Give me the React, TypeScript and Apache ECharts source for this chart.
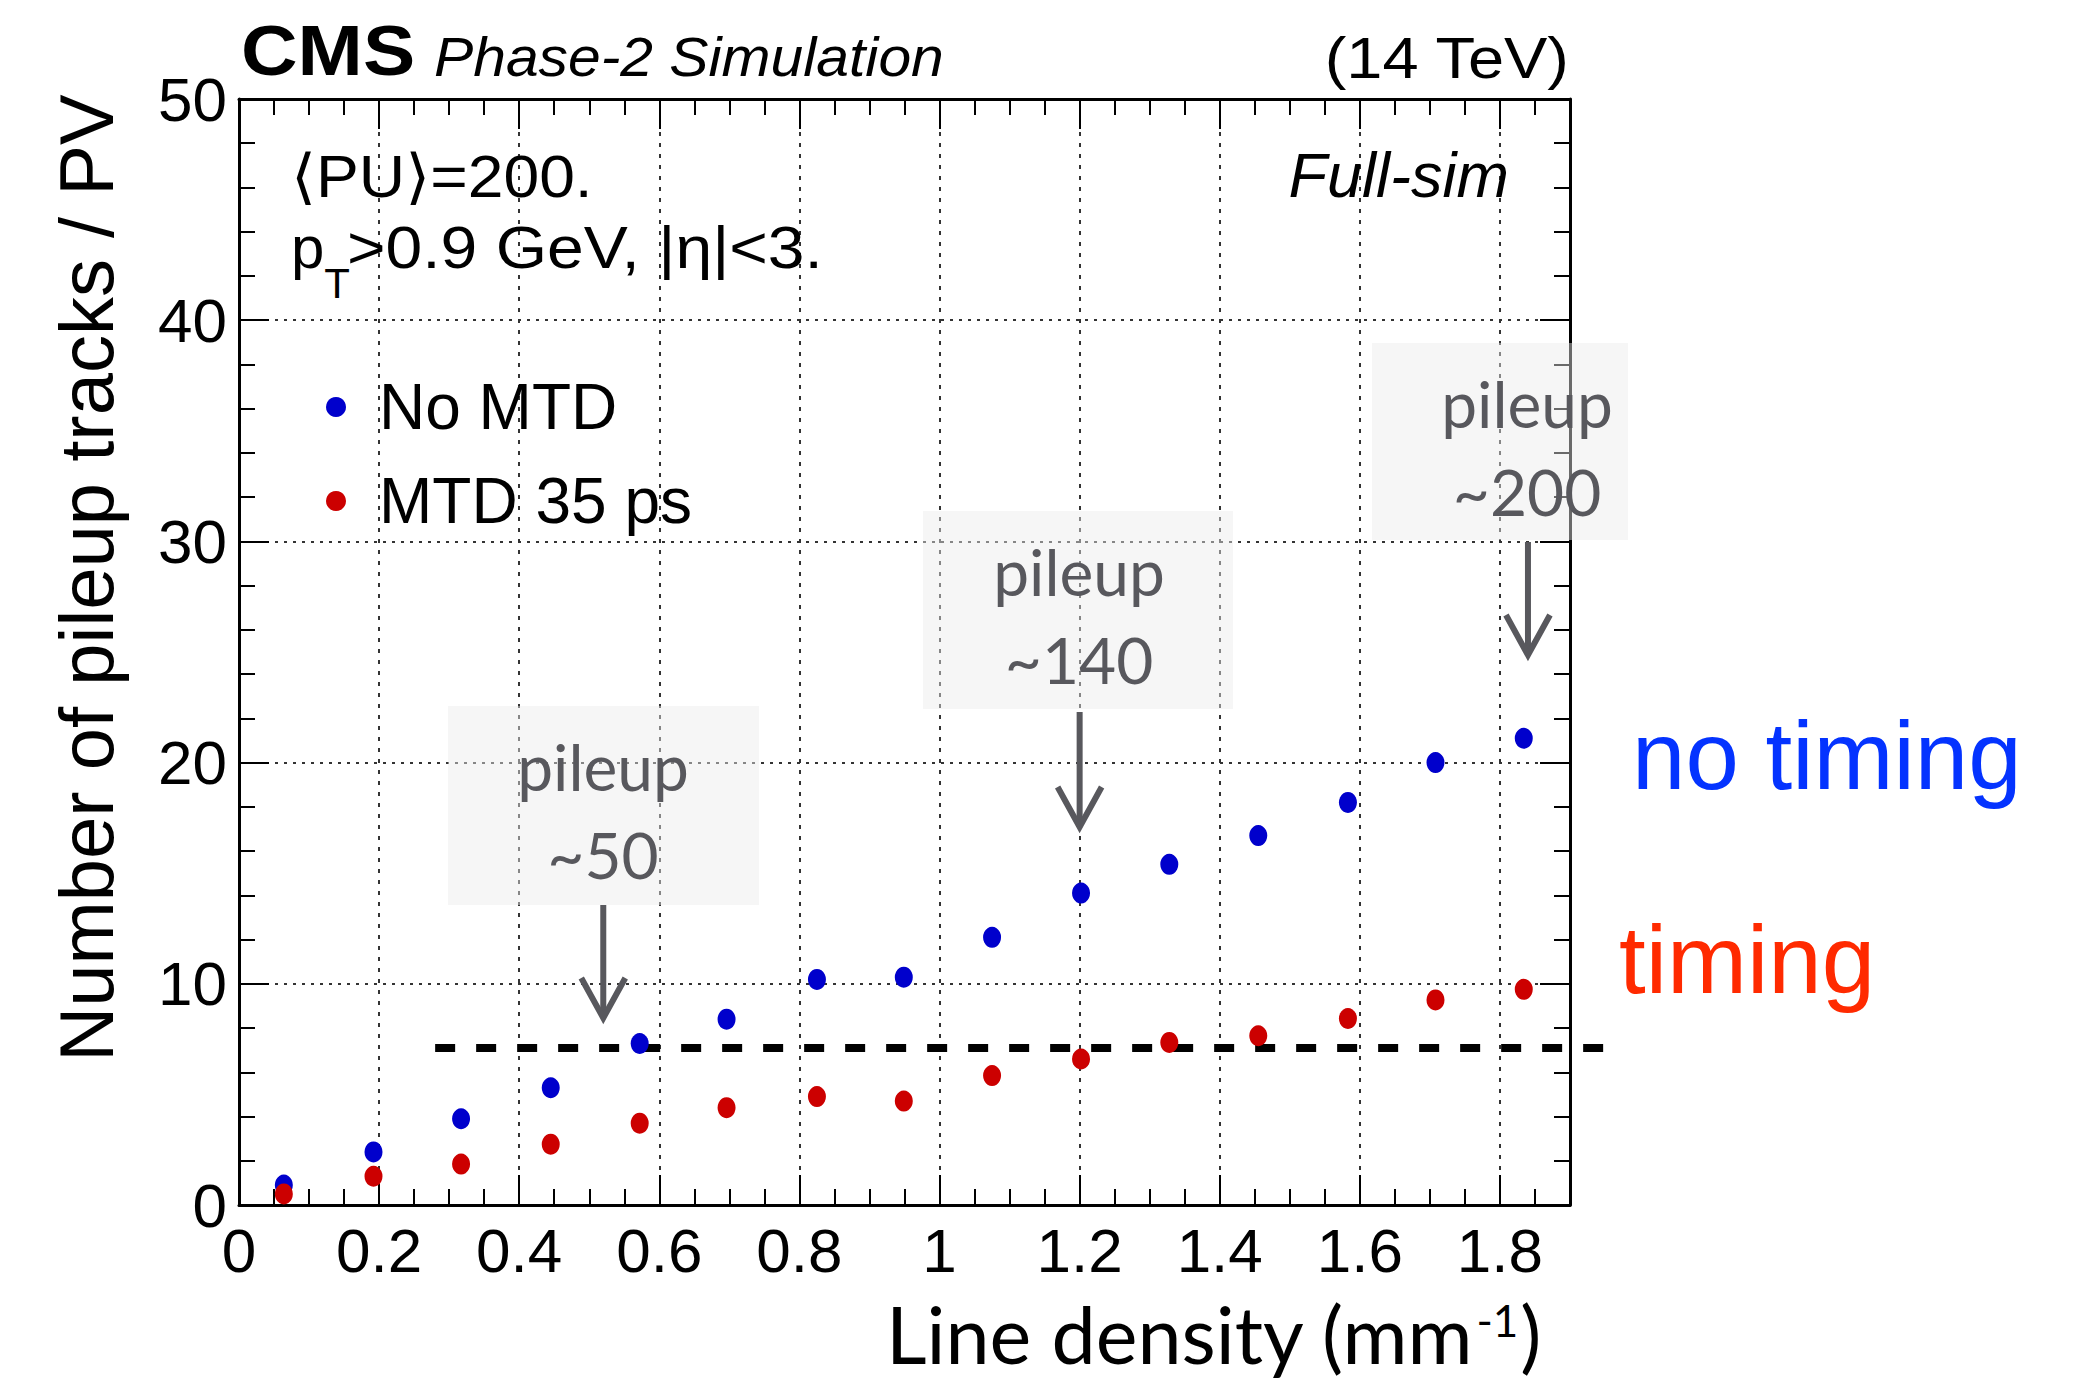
import React, { useEffect, useRef } from "react";
import * as echarts from "echarts";

// ---- data ----
const lineDensity = [0.064, 0.192, 0.317, 0.445, 0.572, 0.696, 0.825, 0.949, 1.075, 1.202, 1.328, 1.455, 1.583, 1.708, 1.834];
const noMtdTracks = [0.9, 2.4, 3.9, 5.3, 7.3, 8.4, 10.2, 10.3, 12.1, 14.1, 15.4, 16.7, 18.2, 20.0, 21.1];
const mtd35Tracks = [0.5, 1.3, 1.85, 2.75, 3.7, 4.4, 4.9, 4.7, 5.85, 6.6, 7.35, 7.65, 8.43, 9.27, 9.75];
const seriesNames = ["No MTD", "MTD 35 ps"];
const thresholdX = [0.28, 1.966];
const thresholdY = [7.1, 7.1];
const pileupLabels = ["~50", "~140", "~200"];
const pileupX = [0.52, 1.2, 1.84];

const HELV = "'Liberation Sans', 'DejaVu Sans', Arial, sans-serif";
const LATO = "Lato, 'Open Sans', sans-serif";

function measure(text: string, font: string): number {
  const c = document.createElement("canvas").getContext("2d")!;
  c.font = font;
  return c.measureText(text).width;
}

export default function App() {
  const ref = useRef<HTMLDivElement>(null);

  useEffect(() => {
    document.body.style.margin = "0";
    const chart = echarts.init(ref.current!, undefined, { renderer: "svg" });

    const gridL = 239, gridR = 504, gridT = 99, gridB = 179;

    const axisCommon = {
      type: "value" as const,
      axisLine: { show: true, onZero: false, lineStyle: { color: "#000", width: 3 } },
      axisTick: { show: true, inside: true, length: 30, lineStyle: { color: "#000", width: 2 } },
      minorTick: { show: true, length: 16, lineStyle: { color: "#000", width: 2 } },
    };
    const gridLine = { show: true, lineStyle: { color: "#333", width: 2, type: [3, 6] } };

    const xAxisBase = { ...axisCommon, min: 0, max: 1.9, interval: 0.2, minorTick: { ...axisCommon.minorTick, splitNumber: 4 } };
    const yAxisBase = { ...axisCommon, min: 0, max: 50, interval: 10, minorTick: { ...axisCommon.minorTick, splitNumber: 5 } };

    const option: any = {
      animation: false,
      backgroundColor: "#fff",
      grid: { left: gridL, right: gridR, top: gridT, bottom: gridB, containLabel: false },
      xAxis: [
        {
          ...xAxisBase, position: "bottom",
          splitLine: { ...gridLine, lineStyle: { ...gridLine.lineStyle, type: [4, 7] } },
          axisLabel: { color: "#000", fontSize: 62, fontFamily: HELV, margin: 14, showMaxLabel: false },
        },
        {
          ...xAxisBase, position: "top",
          splitLine: { show: false }, axisLabel: { show: false },
        },
      ],
      yAxis: [
        {
          ...yAxisBase, position: "left",
          splitLine: gridLine,
          axisLabel: { color: "#000", fontSize: 62, fontFamily: HELV, margin: 12 },
        },
        {
          ...yAxisBase, position: "right",
          splitLine: { show: false }, axisLabel: { show: false },
        },
      ],
      legend: {
        data: seriesNames,
        orient: "vertical",
        left: 326,
        top: 372,
        padding: 0,
        itemWidth: 20,
        itemHeight: 20,
        itemGap: 24,
        icon: "circle",
        textStyle: { fontSize: 64, fontFamily: HELV, color: "#000", lineHeight: 70, padding: [0, 0, 0, 28] },
      },
      series: [
        {
          name: seriesNames[0], type: "scatter", xAxisIndex: 0, yAxisIndex: 0, z: 5,
          symbol: "circle", symbolSize: [18, 21],
          itemStyle: { color: "#0000cc", opacity: 1 },
          data: lineDensity.map((x, i) => [x, noMtdTracks[i]]),
        },
        {
          name: seriesNames[1], type: "scatter", xAxisIndex: 0, yAxisIndex: 0, z: 5,
          symbol: "circle", symbolSize: [18, 21],
          itemStyle: { color: "#cc0000", opacity: 1 },
          data: lineDensity.map((x, i) => [x, mtd35Tracks[i]]),
        },
      ],
    };

    chart.setOption(option);

    const toPx = (x: number, y: number) => chart.convertToPixel({ gridIndex: 0 }, [x, y]) as number[];

    // annotation boxes (pixel layout)
    const boxes = [
      { x: 448, y: 706, w: 311, h: 199, tx: 603, arrowTop: 905, tip: 1018 },
      { x: 923, y: 511, w: 310, h: 198, tx: 1079, arrowTop: 712, tip: 827 },
      { x: 1372, y: 343, w: 256, h: 197, tx: 1527, arrowTop: 542, tip: 655 },
    ];
    const annColor = "#58585d";
    const graphics: any[] = [];
    boxes.forEach((b, i) => {
      const ax = toPx(pileupX[i], 0)[0];
      graphics.push({
        type: "rect", z: 1,
        shape: { x: b.x, y: b.y, width: b.w, height: b.h },
        style: { fill: "rgba(236,236,236,0.45)" },
      });
      graphics.push({
        type: "text", z: 10, x: b.tx, y: b.y + 60,
        style: { text: "pileup", font: `64px ${LATO}`, fill: annColor, align: "center", verticalAlign: "middle" },
      });
      graphics.push({
        type: "text", z: 10, x: b.tx, y: b.y + 148,
        style: { text: pileupLabels[i], font: `64px ${LATO}`, fill: annColor, align: "center", verticalAlign: "middle" },
      });
      graphics.push({
        type: "line", z: 10,
        shape: { x1: ax, y1: b.arrowTop, x2: ax, y2: b.tip - 3 },
        style: { stroke: annColor, lineWidth: 6 },
      });
      graphics.push({
        type: "polyline", z: 10,
        shape: { points: [[ax - 22, b.tip - 40], [ax, b.tip], [ax + 22, b.tip - 40]] },
        style: { stroke: annColor, lineWidth: 6, fill: null },
      });
    });

    // threshold dashed line (through the chart's scales)
    const p0 = toPx(thresholdX[0], thresholdY[0]);
    const p1 = toPx(thresholdX[1], thresholdY[1]);
    graphics.push({
      type: "line", z: 4,
      shape: { x1: p0[0], y1: p0[1], x2: p1[0], y2: p1[1] },
      style: { stroke: "#000", lineWidth: 8, lineDash: [20, 21] },
    });

    // header texts
    graphics.push({
      type: "text", x: 241, y: 51, scaleX: 1.12,
      style: { text: "CMS", font: `bold 70px ${HELV}`, fill: "#000", verticalAlign: "middle" },
    });
    graphics.push({
      type: "text", x: 434, y: 56, scaleX: 1.05,
      style: { text: "Phase-2 Simulation", font: `italic 56px ${HELV}`, fill: "#000", verticalAlign: "middle" },
    });
    graphics.push({
      type: "text", x: 1569, y: 58, scaleX: 1.12,
      style: { text: "(14 TeV)", font: `58px ${HELV}`, fill: "#000", align: "right", verticalAlign: "middle" },
    });
    graphics.push({
      type: "text", x: 1509, y: 175,
      style: { text: "Full-sim", font: `italic 63px ${HELV}`, fill: "#000", align: "right", verticalAlign: "middle" },
    });
    graphics.push({
      type: "text", x: 291, y: 176, scaleX: 1.07,
      style: { text: "⟨PU⟩=200.", font: `60px ${HELV}`, fill: "#000", verticalAlign: "middle" },
    });
    const pW = measure("p", `60px ${HELV}`);
    const tW = measure("T", `42px ${HELV}`);
    graphics.push({
      type: "text", x: 291, y: 247,
      style: { text: "p", font: `60px ${HELV}`, fill: "#000", verticalAlign: "middle" },
    });
    graphics.push({
      type: "text", x: 291 + pW, y: 283,
      style: { text: "T", font: `42px ${HELV}`, fill: "#000", verticalAlign: "middle" },
    });
    graphics.push({
      type: "text", x: 291 + pW + tW - 3, y: 247, scaleX: 1.1,
      style: { text: ">0.9 GeV, |η|<3.", font: `60px ${HELV}`, fill: "#000", verticalAlign: "middle" },
    });

    // axis titles
    graphics.push({
      type: "text", x: 86, y: 578, rotation: Math.PI / 2,
      style: { text: "Number of pileup tracks / PV", font: `76px ${HELV}`, fill: "#000", align: "center", verticalAlign: "middle" },
    });
    const xFont = `79px ${LATO}`;
    const t1 = "Line density (mm";
    const t1W = measure(t1, xFont);
    const supW = measure("-1", `44px ${LATO}`);
    const tY = 1333;
    graphics.push({
      type: "text", x: 886, y: tY,
      style: { text: t1, font: xFont, fill: "#000", verticalAlign: "middle" },
    });
    graphics.push({
      type: "text", x: 886 + t1W + 2, y: tY - 13,
      style: { text: "-1", font: `44px ${LATO}`, fill: "#000", verticalAlign: "middle" },
    });
    graphics.push({
      type: "text", x: 886 + t1W + supW + 4, y: tY,
      style: { text: ")", font: xFont, fill: "#000", verticalAlign: "middle" },
    });

    // side labels
    graphics.push({
      type: "text", x: 1632, y: 755,
      style: { text: "no timing", font: `96px ${HELV}`, fill: "#0433ff", verticalAlign: "middle" },
    });
    graphics.push({
      type: "text", x: 1619, y: 959,
      style: { text: "timing", font: `96px ${HELV}`, fill: "#ff2a00", verticalAlign: "middle" },
    });

    chart.setOption({ graphic: graphics });
    return () => chart.dispose();
  }, []);

  return (
    <div
      ref={ref}
      style={{ position: "fixed", left: 0, top: 0, width: 2074, height: 1384, background: "#fff" }}
    />
  );
}
